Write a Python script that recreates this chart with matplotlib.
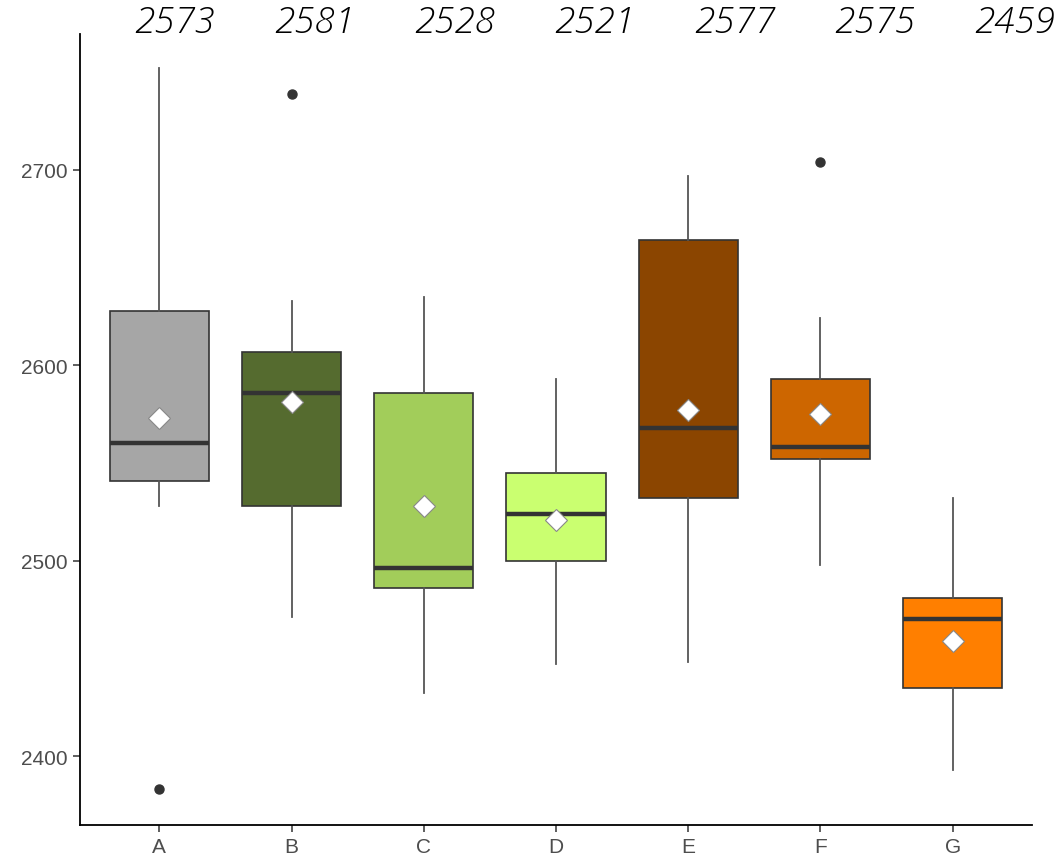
import numpy as np
import matplotlib.pyplot as plt

# box statistics
groups = ["A", "B", "C", "D", "E", "F", "G"]
whisker_lo = [2528, 2471, 2432, 2447, 2448, 2498, 2393]
q1 = [2541, 2528, 2486, 2500, 2532, 2552, 2435]
median = [2560, 2586, 2496, 2524, 2568, 2558, 2470]
q3 = [2628, 2607, 2586, 2545, 2664, 2593, 2481]
whisker_hi = [2752, 2633, 2635, 2593, 2697, 2624, 2532]
means = [2573, 2581, 2528, 2521, 2577, 2575, 2459]
outliers = [[2383], [2739], [], [], [], [2704], []]
colors = ["#A6A6A6", "#556B2F", "#A2CD5A", "#CAFF70", "#8B4500", "#CD6600", "#FF7F00"]

stats = []
for i, g in enumerate(groups):
    stats.append(dict(label=g, whislo=whisker_lo[i], q1=q1[i], med=median[i],
                      q3=q3[i], whishi=whisker_hi[i], fliers=outliers[i]))

fig = plt.figure(figsize=(10.63, 8.62), dpi=100)
ax = fig.add_axes([0.0753, 0.0418, 0.8955, 0.9176])

pos = np.arange(len(groups))
bp = ax.bxp(stats, positions=pos, widths=0.75, patch_artist=True, showcaps=False,
            boxprops=dict(edgecolor="#333333", linewidth=1.2),
            medianprops=dict(color="#333333", linewidth=3.2, solid_capstyle="butt"),
            whiskerprops=dict(color="#555555", linewidth=1.3),
            flierprops=dict(marker="o", markerfacecolor="#333333", markeredgecolor="#333333",
                            markersize=6.5))
for patch, c in zip(bp["boxes"], colors):
    patch.set_facecolor(c)

ax.plot(pos, means, linestyle="none", marker="D", markersize=11,
        markerfacecolor="white", markeredgecolor="#888888", markeredgewidth=0.8, zorder=5)

ax.set_xlim(-0.6, 6.6)
ax.set_ylim(2364.7, 2769.6)
ax.set_yticks([2400, 2500, 2600, 2700])
ax.set_xticks(pos)
ax.set_xticklabels(groups)
for s in ["top", "right"]:
    ax.spines[s].set_visible(False)
for s in ["left", "bottom"]:
    ax.spines[s].set_linewidth(1.3)
    ax.spines[s].set_color("black")
ax.tick_params(axis="both", length=5, width=1.1, color="#333333", labelcolor="#4D4D4D",
               labelsize=15, pad=4)
for lab in ax.get_xticklabels() + ax.get_yticklabels():
    lab.set_family("Liberation Sans")

# mean values written above the plot
for i, m in enumerate(means):
    fig.text((175 + 140 * i) / 1063, 1 - 23 / 862, f"{m}", ha="center", va="center",
             fontsize=26.5, style="italic", weight="light", family="Open Sans",
             color="black")

fig.savefig("out.png", dpi=100)
